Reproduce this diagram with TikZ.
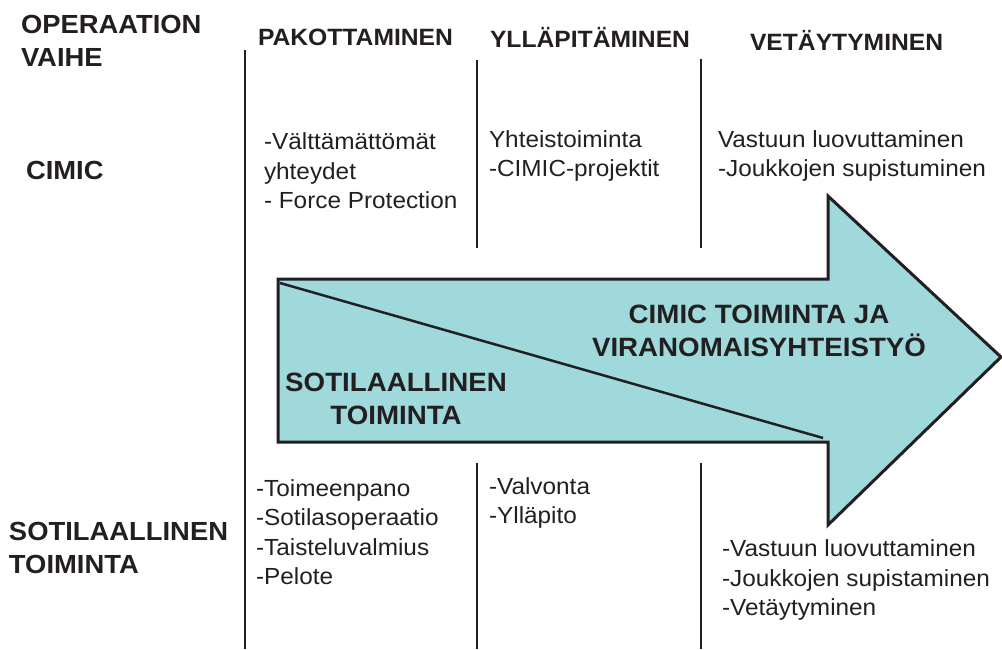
\documentclass[tikz,border=0pt]{standalone}
\usepackage{fontspec}
\setmainfont[FakeStretch=1.045]{Liberation Sans}
\definecolor{arrowfill}{RGB}{159,217,219}
\definecolor{ink}{RGB}{35,31,32}
\begin{document}
\begin{tikzpicture}[x=1pt,y=-1pt,
  every node/.style={inner sep=0pt,outer sep=0pt,text=ink},
  sidelabel/.style={anchor=west,align=left,font=\fontsize{26.2}{33}\selectfont\bfseries},
  header/.style={anchor=west,font=\fontsize{23.6}{29}\selectfont\bfseries},
  bodytext/.style={anchor=west,align=left,font=\fontsize{23.3}{29.5}\selectfont},
  arrowtext/.style={align=center,font=\fontsize{26.5}{33}\selectfont\bfseries},
  divider/.style={draw=ink,line width=1.2pt},
  bigarrow/.style={draw=ink,line width=3pt,fill=arrowfill,line join=miter}]
\useasboundingbox (0,0) rectangle (1002,649);
% dividers
\draw[divider] (245,50) -- (245,649);
\draw[divider] (477,60) -- (477,248);
\draw[divider] (477,463) -- (477,649);
\draw[divider] (701,59) -- (701,248);
\draw[divider] (701,463) -- (701,649);
% arrow
\draw[bigarrow] (278,279) -- (828,279) -- (828,196) -- (1001,357) -- (828,525) -- (828,442) -- (278,442) -- cycle;
\coordinate (dstart) at (280,283);
\coordinate (dend) at (823,438);
\draw[draw=ink,line width=2.5pt] (dstart) -- (dend);
% side labels
\node[sidelabel] (phase) at (21,41) {OPERAATION\\VAIHE};
\node[sidelabel] (cimic) at (26,170) {CIMIC};
\node[sidelabel] (mil) at (9,548) {SOTILAALLINEN\\TOIMINTA};
% headers
\node[header] (h1) at (258,37) {PAKOTTAMINEN};
\node[header] (h2) at (490,37) {YLLÄPITÄMINEN};
\node[header] (h3) at (750,40) {VETÄYTYMINEN};
% CIMIC row
\node[bodytext] (c1) at (264,171) {-Välttämättömät\\yhteydet\\- Force Protection};
\node[bodytext] (c2) at (489,156) {Yhteistoiminta\\-CIMIC-projektit};
\node[bodytext] (c3) at (718,156) {Vastuun luovuttaminen\\-Joukkojen supistuminen};
% military row
\node[bodytext] (m1) at (256,532) {-Toimeenpano\\-Sotilasoperaatio\\-Taisteluvalmius\\-Pelote};
\node[bodytext] (m2) at (489,503) {-Valvonta\\-Ylläpito};
\node[bodytext] (m3) at (722,580) {-Vastuun luovuttaminen\\-Joukkojen supistaminen\\-Vetäytyminen};
% arrow texts
\node[arrowtext] (cimicop) at (759,331) {CIMIC TOIMINTA JA\\VIRANOMAISYHTEISTYÖ};
\node[arrowtext] (milop) at (396,399) {SOTILAALLINEN\\TOIMINTA};
\end{tikzpicture}
\end{document}
